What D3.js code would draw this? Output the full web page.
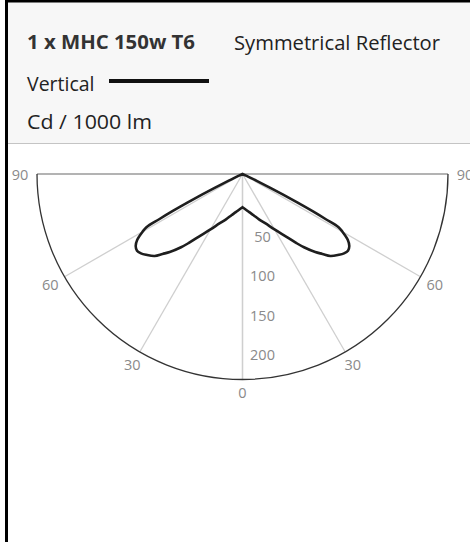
<!DOCTYPE html>
<html>
<head>
<meta charset="utf-8">
<script src="https://cdn.jsdelivr.net/npm/d3@7"></script>
<style>
  body { margin: 0; background: #fff; }
  svg { display: block; font-family: "Open Sans", "Noto Sans", sans-serif; }
</style>
</head>
<body>
<div id="chart"></div>
<script>
// luminaire info
const lampName = "1 x MHC 150w T6";
const reflectorName = "Symmetrical Reflector";
const planeName = "Vertical";
const unitLabel = "Cd / 1000 lm";

// vertical plane intensity, degrees from nadir (symmetric)
const angles = [0, 5, 10, 15, 20, 25, 30, 35, 38, 40, 43, 45, 47, 50, 52, 54, 56, 58, 60, 61, 61.5, 62, 62.5, 63, 63.5, 64, 65, 66, 90];
const intensity = [42, 45, 49, 54, 61, 69, 81, 97, 111, 121, 135, 143, 152, 159, 163, 165, 163, 157, 146, 139, 120, 101, 78, 57, 38, 20, 5, 0, 0];

const radialTicks = [50, 100, 150, 200];
const angleTicks = [0, 30, 60, 90];
const rMax = 260;

const W = 470, H = 542;
const cx = 242.5, cy = 174, R = 205.5;

const svg = d3.select("#chart").append("svg").attr("width", W).attr("height", H);

// frame + header
svg.append("rect").attr("x", 8).attr("y", 2).attr("width", W - 8).attr("height", 141).attr("fill", "#f7f7f7");
svg.append("line").attr("x1", 8).attr("x2", W).attr("y1", 143.5).attr("y2", 143.5).attr("stroke", "#c4c4c4");
svg.append("rect").attr("x", 5).attr("y", 0).attr("width", W - 5).attr("height", 2.5).attr("fill", "#000");
svg.append("rect").attr("x", 5).attr("y", 0).attr("width", 3).attr("height", H).attr("fill", "#000");

svg.append("text").attr("x", 27).attr("y", 48.5).attr("font-size", 19.5).attr("font-weight", "bold")
  .attr("fill", "#333").attr("textLength", 168).attr("lengthAdjust", "spacingAndGlyphs").text(lampName);
svg.append("text").attr("x", 234).attr("y", 50).attr("font-size", 19.5).attr("fill", "#222")
  .attr("textLength", 206).attr("lengthAdjust", "spacingAndGlyphs").text(reflectorName);
svg.append("text").attr("x", 27).attr("y", 90.5).attr("font-size", 19.5).attr("fill", "#222").text(planeName);
svg.append("line").attr("x1", 109).attr("x2", 209).attr("y1", 81).attr("y2", 81)
  .attr("stroke", "#111").attr("stroke-width", 4);
svg.append("text").attr("x", 27).attr("y", 128.5).attr("font-size", 19.5).attr("fill", "#222")
  .attr("textLength", 125).attr("lengthAdjust", "spacingAndGlyphs").text(unitLabel);

// polar scales: 0 deg points down, d3 angles are clockwise from up
const r = d3.scaleLinear().domain([0, rMax]).range([0, R]);
const toRad = d => d * Math.PI / 180;
const rightAngle = d => Math.PI - toRad(d);
const leftAngle = d => Math.PI + toRad(d);

const g = svg.append("g").attr("transform", `translate(${cx},${cy})`);

// spokes
const spokeAngles = angleTicks.filter(a => a < 90);
spokeAngles.forEach(a => {
  [rightAngle(a), leftAngle(a)].forEach(t => {
    g.append("line")
      .attr("x1", 0).attr("y1", 0)
      .attr("x2", R * Math.sin(t)).attr("y2", -R * Math.cos(t))
      .attr("stroke", "#cfcfcf").attr("stroke-width", 1.3);
  });
});
g.append("line").attr("x1", -R).attr("x2", R).attr("y1", 0).attr("y2", 0)
  .attr("stroke", "#9a9a9a").attr("stroke-width", 1.5);

// outer arc
const arc = d3.arc().innerRadius(R).outerRadius(R).startAngle(Math.PI / 2).endAngle(3 * Math.PI / 2);
g.append("path").attr("d", arc()).attr("fill", "none").attr("stroke", "#333").attr("stroke-width", 1.3);

// angle labels, pushed out a bit more toward the sides
angleTicks.forEach(a => {
  const labR = R + 13 + 4 * Math.sin(toRad(a));
  const sides = a === 0 ? [rightAngle(a)] : [rightAngle(a), leftAngle(a)];
  sides.forEach(t => {
    g.append("text")
      .attr("x", labR * Math.sin(t)).attr("y", -labR * Math.cos(t))
      .attr("text-anchor", "middle").attr("dominant-baseline", "central")
      .attr("font-size", 14.5).attr("fill", "#8a8a8a").text(a);
  });
});

// radial value labels
g.selectAll(".rlab").data(radialTicks).join("text")
  .attr("class", "rlab")
  .attr("x", 20).attr("y", d => r(d) + 22.5)
  .attr("text-anchor", "middle").attr("dominant-baseline", "central")
  .attr("font-size", 14.5).attr("fill", "#8a8a8a").text(d => d);

// intensity curve
const pts = angles.map((a, i) => ({ a, v: intensity[i] }));
const lineRight = d3.lineRadial().angle(d => rightAngle(d.a)).radius(d => r(d.v)).curve(d3.curveCatmullRom);
const lineLeft = d3.lineRadial().angle(d => leftAngle(d.a)).radius(d => r(d.v)).curve(d3.curveCatmullRom);
const leftPath = lineLeft(pts.slice().reverse());
const rightPath = lineRight(pts).replace(/^M/, "L");
g.append("path").attr("d", leftPath + rightPath + "Z")
  .attr("fill", "none").attr("stroke", "#1e1e1e").attr("stroke-width", 2.6)
  .attr("stroke-linejoin", "miter");
</script>
</body>
</html>
